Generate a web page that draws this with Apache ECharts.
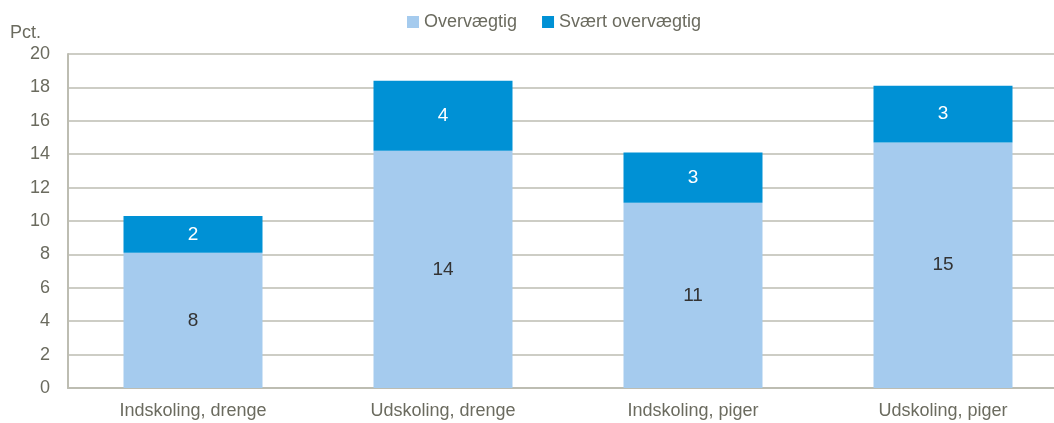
<!DOCTYPE html>
<html>
<head>
<meta charset="utf-8">
<style>
  html, body { margin: 0; padding: 0; background: #fff; overflow: hidden; }
  #chart { width: 1054px; height: 423px; }
</style>
<script src="https://cdn.jsdelivr.net/npm/echarts@6/dist/echarts.min.js"></script>
</head>
<body>
<div id="chart"></div>
<script>
var categories = ["Indskoling, drenge", "Udskoling, drenge", "Indskoling, piger", "Udskoling, piger"];
var overvaegtig = [8.1, 14.2, 11.1, 14.7];
var svaert = [2.2, 4.2, 3.0, 3.4];
var seriesNames = ["Overvægtig", "Svært overvægtig"];

var font = "'Liberation Sans', Arial, sans-serif";
var textGrey = "#6b6b5f";
var lineGrey = "#bdbdb2";

var chart = echarts.init(document.getElementById("chart"));
chart.setOption({
  animation: false,
  textStyle: { fontFamily: font },
  legend: {
    top: 8,
    left: 402,
    itemWidth: 12,
    itemHeight: 12,
    itemGap: 25,
    icon: "rect",
    textStyle: { color: textGrey, fontSize: 18, fontFamily: font },
    data: seriesNames
  },
  grid: {
    left: 68,
    width: 1000,
    top: 54,
    bottom: 35,
    outerBoundsMode: "none"
  },
  xAxis: {
    type: "category",
    data: categories,
    axisTick: { show: false },
    axisLine: { lineStyle: { color: lineGrey, width: 2 } },
    axisLabel: { color: textGrey, fontSize: 18, margin: 14, fontFamily: font }
  },
  yAxis: {
    type: "value",
    min: 0,
    max: 20,
    interval: 2,
    name: "Pct.",
    nameLocation: "end",
    nameGap: 12,
    nameTextStyle: { color: textGrey, fontSize: 18, align: "left", padding: [0, 0, 0, -58], fontFamily: font },
    axisLine: { show: true, lineStyle: { color: lineGrey, width: 2 } },
    axisTick: { show: false },
    splitLine: { lineStyle: { color: lineGrey, width: 1.5 } },
    axisLabel: { color: textGrey, fontSize: 18, margin: 18, fontFamily: font }
  },
  series: [
    {
      name: seriesNames[0],
      type: "bar",
      stack: "total",
      barWidth: "55.6%",
      data: overvaegtig,
      itemStyle: { color: "#a5cbee" },
      label: {
        show: true,
        position: "inside",
        color: "#333333",
        fontSize: 19,
        fontFamily: font,
        formatter: function (p) { return Math.round(p.value); }
      }
    },
    {
      name: seriesNames[1],
      type: "bar",
      stack: "total",
      barWidth: "55.6%",
      data: svaert,
      itemStyle: { color: "#0091d5" },
      label: {
        show: true,
        position: "inside",
        color: "#ffffff",
        fontSize: 19,
        fontFamily: font,
        formatter: function (p) { return Math.round(p.value); }
      }
    }
  ]
});
</script>
</body>
</html>
